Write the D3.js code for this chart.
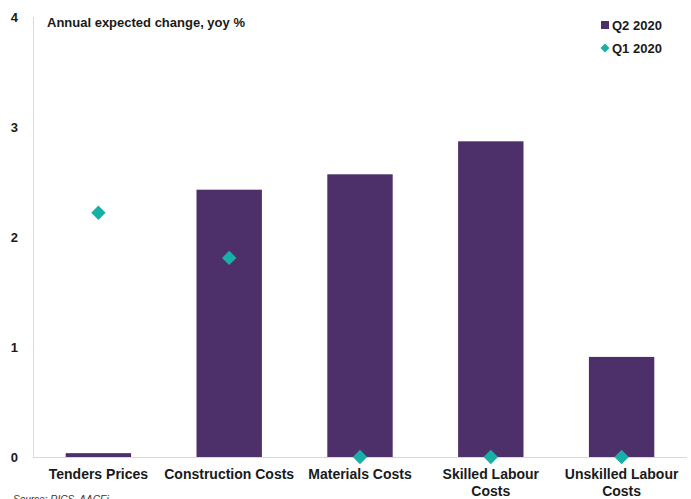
<!DOCTYPE html>
<html>
<head>
<meta charset="utf-8">
<script src="https://cdn.jsdelivr.net/npm/d3@7"></script>
<style>
  html, body { margin: 0; padding: 0; background: #fff; }
  svg { display: block; font-family: "Liberation Sans", Arial, sans-serif; }
</style>
</head>
<body>
<svg id="chart" width="691" height="499"></svg>
<script>
// Categories (label lines) and expected annual change, yoy %
const categories = [
  ["Tenders Prices"],
  ["Construction Costs"],
  ["Materials Costs"],
  ["Skilled Labour", "Costs"],
  ["Unskilled Labour", "Costs"]
];
const q2Values = [0.035, 2.43, 2.57, 2.87, 0.91];
const q1Values = [2.22, 1.81, 0, 0, 0];
const yTicks = [0, 1, 2, 3, 4];
const seriesNames = ["Q2 2020", "Q1 2020"];

const barColor = "#4d3069";
const dotColor = "#18b0a6";

const svg = d3.select("#chart");
const plot = { left: 33, right: 687, top: 17, bottom: 457 };

const keys = categories.map(c => c.join(" "));
const x = d3.scaleBand().domain(keys).range([plot.left, plot.right]).paddingInner(0.5).paddingOuter(0.25);
const y = d3.scaleLinear().domain([0, 4]).range([plot.bottom, plot.top]);

// Axis lines
svg.append("line").attr("x1", plot.left + 0.5).attr("x2", plot.left + 0.5).attr("y1", plot.top).attr("y2", plot.bottom)
  .attr("stroke", "#d9d9d9").attr("stroke-width", 1);
svg.append("line").attr("x1", plot.left).attr("x2", plot.right).attr("y1", plot.bottom + 0.5).attr("y2", plot.bottom + 0.5)
  .attr("stroke", "#d9d9d9").attr("stroke-width", 1.2);

// Y tick labels
svg.append("g").selectAll("text").data(yTicks).join("text")
  .attr("x", 18).attr("y", d => y(d) + 5)
  .attr("text-anchor", "end")
  .attr("font-size", 13).attr("font-weight", "bold").attr("fill", "#1a1a1a")
  .text(d => d);

// Bars (Q2 2020)
svg.append("g").selectAll("rect").data(q2Values).join("rect")
  .attr("x", (d, i) => x(keys[i]))
  .attr("width", x.bandwidth())
  .attr("y", d => y(d))
  .attr("height", d => y(0) - y(d))
  .attr("fill", barColor);

// Diamonds (Q1 2020)
const dsize = 7.2;
svg.append("g").selectAll("path").data(q1Values).join("path")
  .attr("transform", (d, i) => `translate(${x(keys[i]) + x.bandwidth() / 2},${y(d)})`)
  .attr("d", `M0,${-dsize}L${dsize},0L0,${dsize}L${-dsize},0Z`)
  .attr("fill", dotColor);

// Category labels
const lab = svg.append("g").selectAll("text").data(categories).join("text")
  .attr("text-anchor", "middle")
  .attr("font-size", 14).attr("font-weight", "bold").attr("fill", "#1a1a1a")
  .attr("transform", (d, i) => `translate(${x(keys[i]) + x.bandwidth() / 2},479)`);
lab.selectAll("tspan").data(d => d).join("tspan")
  .attr("x", 0).attr("dy", (d, j) => j === 0 ? 0 : 17)
  .text(d => d);

// Title
svg.append("text").attr("x", 47).attr("y", 27)
  .attr("font-size", 13).attr("font-weight", "bold").attr("fill", "#1a1a1a")
  .text("Annual expected change, yoy %");

// Legend
const legend = svg.append("g");
legend.append("rect").attr("x", 601).attr("y", 21).attr("width", 8).attr("height", 8).attr("fill", barColor);
legend.append("path").attr("transform", "translate(605,48)")
  .attr("d", "M0,-4.5L4.5,0L0,4.5L-4.5,0Z").attr("fill", dotColor);
legend.selectAll("text").data(seriesNames).join("text")
  .attr("x", 612).attr("y", (d, i) => 30 + i * 23)
  .attr("font-size", 13).attr("font-weight", "bold").attr("fill", "#1a1a1a")
  .text(d => d);

// Source note
svg.append("text").attr("x", 13).attr("y", 503)
  .attr("font-size", 10).attr("font-style", "italic").attr("fill", "#333")
  .text("Source: RICS, AACEi");
</script>
</body>
</html>
